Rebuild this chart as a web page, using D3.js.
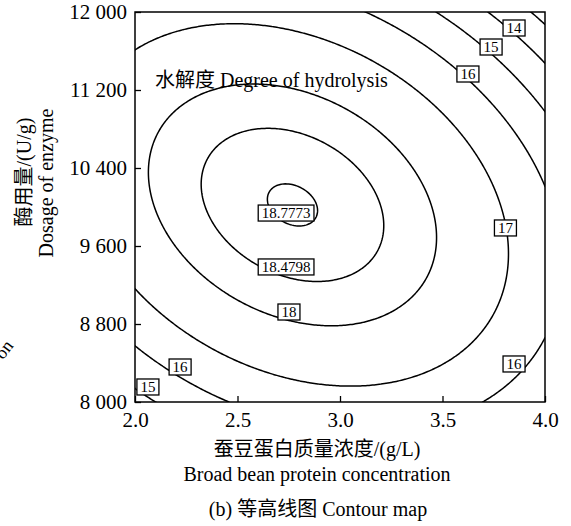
<!DOCTYPE html>
<html>
<head>
<meta charset="utf-8">
<script src="https://cdn.jsdelivr.net/npm/d3@7"></script>
<style>
    html, body { margin: 0; padding: 0; background: #fff; }
    svg { display: block; }
    text {
        font-family: "Liberation Serif", "Noto Sans CJK SC", serif;
        fill: #000;
    }
</style>
</head>
<body>
<div id="chart"></div>
<script>
// axes
const X_DOMAIN = [2.0, 4.0];
const Y_DOMAIN = [8000, 12000];
const X_TICKS = [2.0, 2.5, 3.0, 3.5, 4.0];
const X_TICK_LABELS = ['2.0', '2.5', '3.0', '3.5', '4.0'];
const Y_TICKS = [8000, 8800, 9600, 10400, 11200, 12000];
const Y_TICK_LABELS = ['8 000', '8 800', '9 600', '10 400', '11 200', '12 000'];

// response surface (coded units: A = (x - 3) / 1, B = (y - 10000) / 2000)
const MODEL_TERMS = ['intercept', 'A', 'B', 'AB', 'A2', 'B2'];
const MODEL_COEFS = [18.71, -0.80, -0.20, -1.07, -1.75, -2.25];

const CONTOUR_LEVELS = [13, 14, 15, 16, 17, 18, 18.4798, 18.7773];

// contour labels, anchored in data units
const LABEL_TEXTS = ['18.7773', '18.4798', '18', '17', '16', '16', '15', '16', '15', '14'];
const LABEL_X = [2.737, 2.737, 2.751, 3.807, 3.849, 2.220, 2.063, 3.624, 3.737, 3.849];
const LABEL_Y = [9938, 9385, 8923, 9785, 8390, 8359, 8154, 11364, 11641, 11836];

const WIDTH = 571;
const HEIGHT = 526;
const margin = { top: 12, right: 26, bottom: 124, left: 135 };
const innerWidth = WIDTH - margin.left - margin.right;
const innerHeight = HEIGHT - margin.top - margin.bottom;
const GRID_N = 241;

function predict(x, y) {
    const c = {};
    MODEL_TERMS.forEach((term, i) => { c[term] = MODEL_COEFS[i]; });
    const a = (x - 3);
    const b = (y - 10000) / 2000;
    return c.intercept + c.A * a + c.B * b + c.AB * a * b + c.A2 * a * a + c.B2 * b * b;
}

function renderChart(container) {
    const svg = d3.select(container).append('svg')
        .attr('width', WIDTH)
        .attr('height', HEIGHT);

    const xScale = d3.scaleLinear().domain(X_DOMAIN).range([0, innerWidth]);
    const yScale = d3.scaleLinear().domain(Y_DOMAIN).range([innerHeight, 0]);

    svg.append('defs').append('clipPath')
        .attr('id', 'plot-clip')
        .append('rect')
        .attr('width', innerWidth)
        .attr('height', innerHeight);

    const chartGroup = svg.append('g')
        .attr('transform', `translate(${margin.left},${margin.top})`);

    // grid of model values
    const gridX = d3.scaleLinear().domain([0, GRID_N - 1]).range(X_DOMAIN);
    const gridY = d3.scaleLinear().domain([0, GRID_N - 1]).range(Y_DOMAIN);
    const values = new Array(GRID_N * GRID_N);
    for (let j = 0; j < GRID_N; j++) {
        for (let i = 0; i < GRID_N; i++) {
            values[j * GRID_N + i] = predict(gridX(i), gridY(j));
        }
    }

    const contours = d3.contours()
        .size([GRID_N, GRID_N])
        .thresholds(CONTOUR_LEVELS)(values);

    const projection = d3.geoTransform({
        point(px, py) {
            this.stream.point(xScale(gridX(px - 0.5)), yScale(gridY(py - 0.5)));
        }
    });
    const path = d3.geoPath(projection);

    chartGroup.append('g')
        .attr('clip-path', 'url(#plot-clip)')
        .selectAll('path')
        .data(contours)
        .enter()
        .append('path')
        .attr('d', path)
        .attr('fill', 'none')
        .attr('stroke', '#000')
        .attr('stroke-width', 1.5)
        .attr('stroke-linejoin', 'round');

    // frame
    chartGroup.append('rect')
        .attr('width', innerWidth)
        .attr('height', innerHeight)
        .attr('fill', 'none')
        .attr('stroke', '#000')
        .attr('stroke-width', 1.5);

    // inward ticks
    chartGroup.append('g')
        .attr('transform', `translate(0,${innerHeight})`)
        .call(d3.axisBottom(xScale)
            .tickValues(X_TICKS)
            .tickSizeInner(-6)
            .tickSizeOuter(0)
            .tickFormat((d, i) => X_TICK_LABELS[i]))
        .call((group) => group.select('.domain').remove())
        .call((group) => group.selectAll('line').attr('stroke', '#000').attr('stroke-width', 1.3))
        .call((group) => group.selectAll('text')
            .attr('y', 25)
            .attr('dy', 0)
            .attr('font-size', 21)
            .attr('font-family', null)
            .attr('fill', '#000'));

    chartGroup.append('g')
        .call(d3.axisLeft(yScale)
            .tickValues(Y_TICKS)
            .tickSizeInner(-6)
            .tickSizeOuter(0)
            .tickFormat((d, i) => Y_TICK_LABELS[i]))
        .call((group) => group.select('.domain').remove())
        .call((group) => group.selectAll('line').attr('stroke', '#000').attr('stroke-width', 1.3))
        .call((group) => group.selectAll('text')
            .attr('x', -8)
            .attr('dy', '0.33em')
            .attr('font-size', 21)
            .attr('font-family', null)
            .attr('fill', '#000'));

    // contour labels
    const labelGroup = chartGroup.append('g');
    LABEL_TEXTS.forEach((label, i) => {
        const cx = xScale(LABEL_X[i]);
        const cy = yScale(LABEL_Y[i]);
        const holder = labelGroup.append('g');
        const box = holder.append('rect');
        const text = holder.append('text')
            .attr('x', cx)
            .attr('y', cy)
            .attr('dy', '0.34em')
            .attr('text-anchor', 'middle')
            .attr('font-size', 15)
            .text(label);
        const textWidth = text.node().getComputedTextLength();
        box.attr('x', cx - textWidth / 2 - 3.5)
            .attr('y', cy - 8)
            .attr('width', textWidth + 7)
            .attr('height', 16)
            .attr('fill', '#fff')
            .attr('stroke', '#000')
            .attr('stroke-width', 1.3);
    });

    // in-plot title
    chartGroup.append('text')
        .attr('x', 20)
        .attr('y', 75)
        .attr('font-size', 20)
        .text('水解度 Degree of hydrolysis');

    // axis titles
    svg.append('text')
        .attr('x', margin.left + innerWidth / 2 - 23)
        .attr('y', 456)
        .attr('text-anchor', 'middle')
        .attr('font-size', 20)
        .text('蚕豆蛋白质量浓度/(g/L)');

    svg.append('text')
        .attr('x', margin.left + innerWidth / 2 - 23)
        .attr('y', 481)
        .attr('text-anchor', 'middle')
        .attr('font-size', 20)
        .text('Broad bean protein concentration');

    svg.append('text')
        .attr('x', margin.left + innerWidth / 2 - 22)
        .attr('y', 516)
        .attr('text-anchor', 'middle')
        .attr('font-size', 20)
        .text('(b) 等高线图 Contour map');

    svg.append('text')
        .attr('transform', 'translate(31,172) rotate(-90)')
        .attr('text-anchor', 'middle')
        .attr('font-size', 20)
        .text('酶用量/(U/g)');

    svg.append('text')
        .attr('transform', 'translate(53,183) rotate(-90)')
        .attr('text-anchor', 'middle')
        .attr('font-size', 20)
        .text('Dosage of enzyme');

    // leftover fragment from the neighbouring panel
    svg.append('text')
        .attr('transform', 'translate(14,346) rotate(-52)')
        .attr('text-anchor', 'end')
        .attr('font-size', 18)
        .text('on');
}

renderChart(document.getElementById('chart'));
</script>
</body>
</html>
